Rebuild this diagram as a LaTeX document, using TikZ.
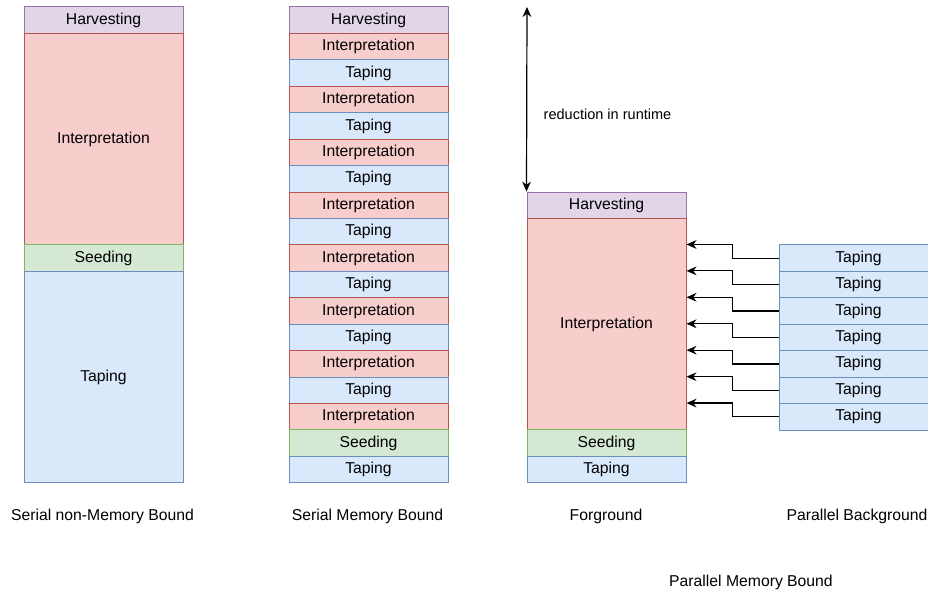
\documentclass[tikz,border=0pt]{standalone}
\usepackage{fontspec}
\setmainfont{Liberation Sans}
\usetikzlibrary{arrows.meta}

\definecolor{harvfill}{HTML}{E1D5E7}
\definecolor{harvline}{HTML}{9673A6}
\definecolor{intfill}{HTML}{F8CECC}
\definecolor{intline}{HTML}{B85450}
\definecolor{seedfill}{HTML}{D5E8D4}
\definecolor{seedline}{HTML}{82B366}
\definecolor{tapefill}{HTML}{DAE8FC}
\definecolor{tapeline}{HTML}{6C8EBF}

\tikzset{
  blk/.style={minimum width=119.25pt, minimum height=19.83pt, inner sep=0pt,
    line width=0.75pt, font=\fontsize{11.8}{14}\selectfont},
  harv/.style={blk, draw=harvline, fill=harvfill},
  interp/.style={blk, draw=intline, fill=intfill},
  seed/.style={blk, draw=seedline, fill=seedfill},
  tape/.style={blk, draw=tapeline, fill=tapefill},
  tall/.style={minimum height=158.6pt},
  lbl/.style={font=\fontsize{11.8}{14}\selectfont},
  conn/.style={line width=0.9pt, -{Stealth[length=7.5pt,width=6.5pt]}}
}

\begin{document}
\begin{tikzpicture}[x=0.75pt, y=-0.75pt]
  \useasboundingbox (0,0) rectangle (928,595);

  % serial, no memory bound
  \node[harv] (sh) at (103.5,20.2) {Harvesting};
  \node[interp, tall] (si) at (103.5,139.2) {Interpretation};
  \node[seed] (ss) at (103.5,258.2) {Seeding};
  \node[tape, tall] (st) at (103.5,377.2) {Taping};

  % serial, memory bound
  \node[harv] (mh) at (368.5,20.2) {Harvesting};
  \node[interp] (mi1) at (368.5,46.7) {Interpretation};
  \node[tape] (mt1) at (368.5,73.1) {Taping};
  \node[interp] (mi2) at (368.5,99.5) {Interpretation};
  \node[tape] (mt2) at (368.5,126.0) {Taping};
  \node[interp] (mi3) at (368.5,152.4) {Interpretation};
  \node[tape] (mt3) at (368.5,178.8) {Taping};
  \node[interp] (mi4) at (368.5,205.3) {Interpretation};
  \node[tape] (mt4) at (368.5,231.7) {Taping};
  \node[interp] (mi5) at (368.5,258.2) {Interpretation};
  \node[tape] (mt5) at (368.5,284.6) {Taping};
  \node[interp] (mi6) at (368.5,311.0) {Interpretation};
  \node[tape] (mt6) at (368.5,337.5) {Taping};
  \node[interp] (mi7) at (368.5,363.9) {Interpretation};
  \node[tape] (mt7) at (368.5,390.4) {Taping};
  \node[interp] (mi8) at (368.5,416.8) {Interpretation};
  \node[seed] (ms) at (368.5,443.2) {Seeding};
  \node[tape] (mt8) at (368.5,469.7) {Taping};

  % foreground
  \node[harv] (fh) at (606.5,205.3) {Harvesting};
  \node[interp, tall] (fi) at (606.5,324.3) {Interpretation};
  \node[seed] (fs) at (606.5,443.2) {Seeding};
  \node[tape] (ft) at (606.5,469.7) {Taping};

  % background
  \node[tape] (bt1) at (858.5,258.2) {Taping};
  \node[tape] (bt2) at (858.5,284.6) {Taping};
  \node[tape] (bt3) at (858.5,311.0) {Taping};
  \node[tape] (bt4) at (858.5,337.5) {Taping};
  \node[tape] (bt5) at (858.5,363.9) {Taping};
  \node[tape] (bt6) at (858.5,390.4) {Taping};
  \node[tape] (bt7) at (858.5,416.8) {Taping};

  \draw[conn] (bt1.west) -- ++(-46,0) |- (fi.east |- bt1.north);
  \draw[conn] (bt2.west) -- ++(-46,0) |- (fi.east |- bt2.north);
  \draw[conn] (bt3.west) -- ++(-46,0) |- (fi.east |- bt3.north);
  \draw[conn] (bt4.west) -- ++(-46,0) |- (fi.east |- bt4.north);
  \draw[conn] (bt5.west) -- ++(-46,0) |- (fi.east |- bt5.north);
  \draw[conn] (bt6.west) -- ++(-46,0) |- (fi.east |- bt6.north);
  \draw[conn] (bt7.west) -- ++(-46,0) |- (fi.east |- bt7.north);

  % runtime gap
  \coordinate (rtop) at (527,7);
  \draw[conn, {Stealth[length=7.5pt,width=6.5pt]}-{Stealth[length=7.5pt,width=6.5pt]}]
    (rtop) -- (fh.north west);
  \node[lbl, font=\fontsize{10.9}{13}\selectfont] (rlbl) at (607.5,114) {reduction in runtime};

  \node[lbl] (l1) at (102.5,516) {Serial non-Memory Bound};
  \node[lbl] (l2) at (367.5,516) {Serial Memory Bound};
  \node[lbl] (l3) at (606,516) {Forground};
  \node[lbl] (l4) at (857,516) {Parallel Background};
  \node[lbl] (l5) at (751,582) {Parallel Memory Bound};
\end{tikzpicture}
\end{document}
